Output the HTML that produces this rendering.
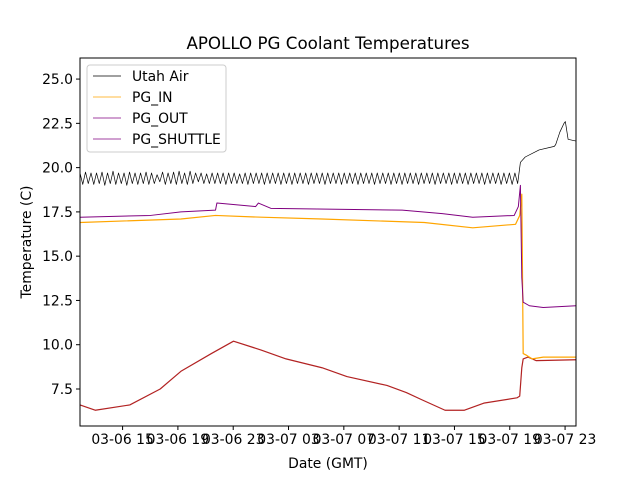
<!DOCTYPE html>
<html><head><meta charset="utf-8"><style>
body{margin:0;background:#fff;}
svg text{font-family:"DejaVu Sans","Liberation Sans",sans-serif;}
</style></head><body>
<svg id="chart" width="640" height="480">
<rect width="640" height="480" fill="#fff"/>
<g id="plot"></g>
<g id="axes"></g>
<text x="328" y="49" font-size="16.7" text-anchor="middle">APOLLO PG Coolant Temperatures</text>
<text x="328" y="468" font-size="13.9" text-anchor="middle">Date (GMT)</text>
<text transform="translate(31,242) rotate(-90)" font-size="13.9" text-anchor="middle">Temperature (C)</text>
<g font-size="13.9">
<rect x="87" y="65" width="139" height="87" rx="3" fill="#fff" fill-opacity="0.8" stroke="#ccc"/>
<g><line x1="93" x2="121" y1="76" y2="76" stroke="#000" stroke-width="0.8"/><text x="132" y="81">Utah Air</text></g>
<g><line x1="93" x2="121" y1="97" y2="97" stroke="#ffa500" stroke-width="0.8"/><text x="132" y="102">PG_IN</text></g>
<g><line x1="93" x2="121" y1="118" y2="118" stroke="#800080" stroke-width="0.8"/><text x="132" y="123">PG_OUT</text></g>
<g><line x1="93" x2="121" y1="139" y2="139" stroke="#800080" stroke-width="0.8"/><text x="132" y="144">PG_SHUTTLE</text></g>
</g>
</svg>
<script>
// ---- data (hours since 03-06 12:00) ----
const xTickLabels = ["03-06 15","03-06 19","03-06 23","03-07 03","03-07 07","03-07 11","03-07 15","03-07 19","03-07 23"];
const xTickHours = [3.08,7.08,11.08,15.08,19.08,23.08,27.08,31.08,35.08];
const yTicks = [7.5,10.0,12.5,15.0,17.5,20.0,22.5,25.0];
const airOscVals = [
19.7,19.05,19.75,19.1,19.7,19.05,19.7,19.1,19.75,19.0,19.7,19.1,19.8,19.05,19.7,19.1,19.7,19.0,19.75,19.1,
19.7,19.05,19.7,19.1,19.75,19.05,19.7,19.1,19.6,19.2,19.75,19.05,19.7,19.1,19.75,19.05,19.8,19.1,19.7,19.05,
19.8,19.1,19.7,19.2,19.7,19.1,19.65,19.1,19.7,19.1,19.7,19.1,19.7,19.05,19.7,19.1,19.7,19.1,19.65,19.1,
19.7,19.05,19.7,19.1,19.7,19.1,19.7,19.05,19.7,19.1,19.7,19.1,19.7,19.05,19.7,19.1,19.7,19.05,19.7,19.1,
19.7,19.1,19.7,19.05,19.7,19.1,19.7,19.1,19.7,19.05,19.7,19.1,19.7,19.1,19.7,19.05,19.7,19.1,19.7,19.1,
19.7,19.05,19.7,19.1,19.7,19.1,19.7,19.05,19.7,19.1,19.7,19.1,19.7,19.05,19.7,19.1,19.7,19.05,19.7,19.1,
19.7,19.1,19.7,19.05,19.7,19.1,19.7,19.1,19.7,19.05,19.7,19.1,19.7,19.1,19.7,19.05,19.7,19.1,19.7,19.1,
19.7,19.05,19.7,19.1,19.7,19.1,19.7,19.05,19.7,19.1,19.7,19.1,19.7,19.05,19.7,19.1,19.7,19.05,19.7,19.1];
const airTailHours = [31.65,31.85,32.2,33.2,34.3,34.4,34.7,35.0,35.1,35.3,35.87];
const airTailVals = [19.1,20.3,20.6,21.0,21.2,21.3,22.0,22.5,22.6,21.6,21.5];
const inHours = [0,7.3,9.8,13.1,17.5,24.9,28.4,31.5,31.8,31.95,32.05,32.3,32.7,33.5,35.87];
const inVals  = [16.9,17.1,17.3,17.2,17.1,16.9,16.6,16.8,17.3,18.5,9.5,9.4,9.2,9.3,9.3];
const outHours = [0,5.1,7.3,9.8,9.9,12.7,12.9,13.8,23.3,26.2,28.4,31.4,31.7,31.85,31.95,32.05,32.5,33.5,35.87];
const outVals  = [17.2,17.3,17.5,17.6,18.0,17.8,18.0,17.7,17.6,17.4,17.2,17.3,17.8,19.0,13.8,12.4,12.2,12.1,12.2];
const shHours = [0,1.1,3.6,5.8,7.3,9.5,11.1,13.1,14.9,17.5,19.3,22.2,23.6,24.7,26.4,27.8,29.2,31.6,31.8,31.95,32.05,32.4,33.0,35.87];
const shVals  = [6.6,6.3,6.6,7.5,8.5,9.5,10.2,9.7,9.2,8.7,8.2,7.7,7.3,6.9,6.3,6.3,6.7,7.0,7.1,8.7,9.2,9.3,9.1,9.15];

// ---- axes ----
const L=80,R=576,T=58,B=426, X0=0,X1=35.87, Y0=5.41,Y1=26.19;
const sx=h=>L+(h-X0)/(X1-X0)*(R-L);
const sy=v=>B-(v-Y0)/(Y1-Y0)*(B-T);
const NS="http://www.w3.org/2000/svg";
function mk(tag,attrs,parent){const e=document.createElementNS(NS,tag);for(const k in attrs)e.setAttribute(k,attrs[k]);parent.appendChild(e);return e;}
const plot=document.getElementById('plot'), axes=document.getElementById('axes');

function line(hours,vals,color,name,w){
  const d=hours.map((h,i)=>(i?'L':'M')+sx(h).toFixed(2)+','+sy(vals[i]).toFixed(2)).join('');
  const p=mk('path',{d:d,fill:'none',stroke:color,'stroke-width':w,'stroke-linejoin':'round'},plot);
  
  
}
const airHours=[], airVals=[];
const step=31.65/(airOscVals.length-1);
airOscVals.forEach((v,i)=>{airHours.push(i*step);airVals.push(v);});
airTailHours.forEach((h,i)=>{airHours.push(h);airVals.push(airTailVals[i]);});
line(shHours,shVals,'#b22222','series-pg-shuttle',1.2);
line(inHours,inVals,'#ffa500','series-pg-in',1.2);
line(outHours,outVals,'#800080','series-pg-out',1);
line(airHours,airVals,'#000','series-utah-air',0.7);

const frame=mk('rect',{x:L,y:T,width:R-L,height:B-T,fill:'none',stroke:'#000','stroke-width':1},axes);


xTickHours.forEach((h,i)=>{
  const x=sx(h);
  mk('line',{x1:x,x2:x,y1:B,y2:B+4,stroke:'#000'},axes);
  const t=mk('text',{x:x,y:B+18,'font-size':13.9,'text-anchor':'middle'},axes);
  t.textContent=xTickLabels[i];
  
  
});
yTicks.forEach(v=>{
  const y=sy(v);
  mk('line',{x1:L-4,x2:L,y1:y,y2:y,stroke:'#000'},axes);
  const t=mk('text',{x:L-7,y:y+5,'font-size':13.9,'text-anchor':'end'},axes);
  t.textContent=v.toFixed(1);
  
  
});
</script>
</body></html>
